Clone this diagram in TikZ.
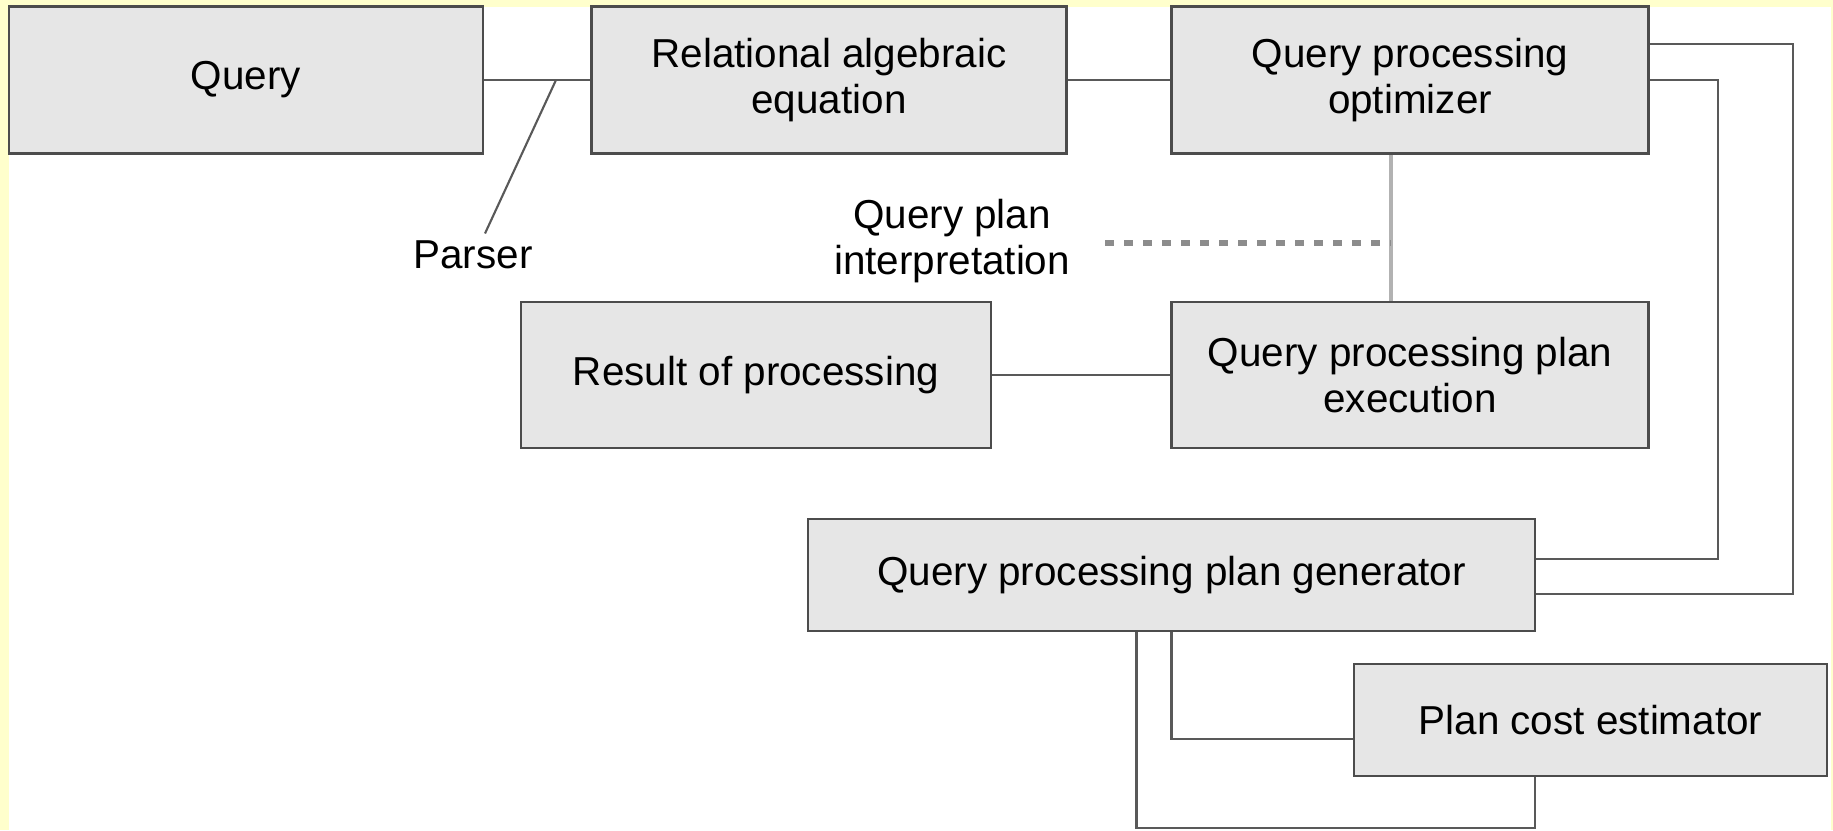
\documentclass[tikz,border=0pt]{standalone}
\usepackage{fontspec}
\setmainfont{Liberation Sans}
\usepackage{tikz}
\usetikzlibrary{calc}

\definecolor{framey}{HTML}{FFFFCC}
\definecolor{boxfill}{HTML}{E6E6E6}

\tikzset{
	box/.style={draw=black!70, line width=0.8pt, fill=boxfill, align=center,
		inner sep=0pt, font=\fontsize{11.5}{13}\selectfont},
	link/.style={draw=black!65, line width=0.6pt},
	feed/.style={draw=black!30, line width=1.1pt},
	dotline/.style={draw=black!45, line width=1.6pt, dash pattern=on 0.09cm off 0.1cm},
	lbl/.style={align=center, font=\fontsize{11.5}{13}\selectfont}
}

\begin{document}
\begin{tikzpicture}
		% Frame
		\useasboundingbox (0,0) rectangle (18.33,8.30);
		\fill[framey] (0,0) rectangle (18.33,8.30);
		\fill[white] (0.09,0) rectangle (18.31,8.23);

		% Top row
		\node[box, minimum width=4.74cm, minimum height=1.47cm] (query) at (2.46,7.50) {Query};
		\node[box, minimum width=4.75cm, minimum height=1.47cm] (relalg) at (8.29,7.50) {Relational algebraic\\equation};
		\node[box, minimum width=4.77cm, minimum height=1.47cm] (optimizer) at (14.10,7.50) {Query processing\\optimizer};

		% Middle row
		\node[box, minimum width=4.70cm, minimum height=1.46cm] (result) at (7.56,4.55) {Result of processing};
		\node[box, minimum width=4.77cm, minimum height=1.46cm] (execution) at (14.10,4.55) {Query processing plan\\execution};

		% Bottom rows
		\node[box, minimum width=7.27cm, minimum height=1.12cm] (generator) at (11.715,2.55) {Query processing plan generator};
		\node[box, minimum width=4.73cm, minimum height=1.12cm] (estimator) at (15.905,1.10) {Plan cost estimator};

		% Labels
		\node[lbl] (parser) at (4.73,5.75) {Parser};
		\node[lbl] (interp) at (9.52,5.89) {Query plan\\interpretation};

		% Parser
		\draw[link] (query.east) -- (relalg.west);
		\coordinate (pj) at (5.56,7.50);
		\draw[link] (pj) -- ([xshift=0.12cm,yshift=-0.05cm]parser.north);

		% Optimizer
		\draw[link] (relalg.east) -- (optimizer.west);
		\draw[feed] ([xshift=-0.19cm]optimizer.south) -- ([xshift=-0.19cm]execution.north);
		\coordinate (tap) at (13.91,5.87);
		\draw[dotline] (11.05,5.87) -- (tap);
		\draw[link] (result.east) -- (execution.west);

		% Feedback loops
		\draw[link] ([yshift=0.36cm]optimizer.east) -- ++(1.43,0) |- ([yshift=-0.19cm]generator.east);
		\draw[link] (optimizer.east) -- ++(0.68,0) |- ([yshift=0.16cm]generator.east);

		% Cost estimation
		\draw[link] (generator.south) |- ([yshift=-0.19cm]estimator.west);
		\draw[link] ([xshift=-0.35cm]generator.south) -- ++(0,-1.96) -| ([xshift=-0.555cm]estimator.south);
	\end{tikzpicture}
\end{document}
